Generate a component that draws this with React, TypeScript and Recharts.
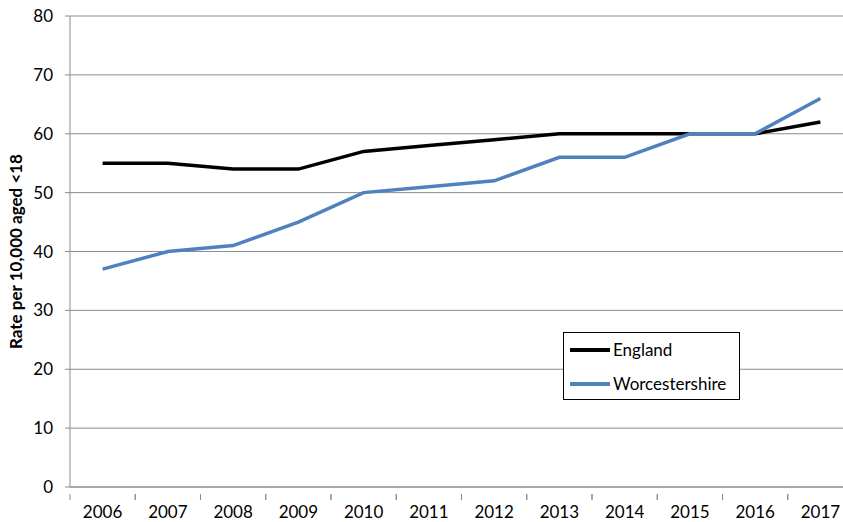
import React from "react";
import { LineChart, Line, XAxis, YAxis, CartesianGrid } from "recharts";

const years = ["2006", "2007", "2008", "2009", "2010", "2011", "2012", "2013", "2014", "2015", "2016", "2017"];
const england = [55, 55, 54, 54, 57, 58, 59, 60, 60, 60, 60, 62];
const worcestershire = [37, 40, 41, 45, 50, 51, 52, 56, 56, 60, 60, 66];
const yTicks = [0, 10, 20, 30, 40, 50, 60, 70, 80];

const data = years.map((y, i) => ({
  year: y,
  England: england[i],
  Worcestershire: worcestershire[i],
}));

const FONT = "Lato, 'Open Sans', sans-serif";
const GRID = "#8c8c8c";
const HALF_BAND = 32.6;

function XTick({ x, y, payload }: { x?: number; y?: number; payload?: { value: string } }) {
  return (
    <g>
      <line x1={(x ?? 0) - HALF_BAND} x2={(x ?? 0) - HALF_BAND} y1={(y ?? 0) - 1} y2={(y ?? 0) + 5} stroke={GRID} />
      <line x1={(x ?? 0) + HALF_BAND} x2={(x ?? 0) + HALF_BAND} y1={(y ?? 0) - 1} y2={(y ?? 0) + 5} stroke={GRID} />
      <text x={x} y={(y ?? 0) + 23} textAnchor="middle" fontSize={17} fill="#000" fontFamily={FONT}>
        {payload?.value}
      </text>
    </g>
  );
}

function LegendBox() {
  const items = [
    { name: "England", color: "#000000" },
    { name: "Worcestershire", color: "#4F81BD" },
  ];
  return (
    <div
      style={{
        position: "absolute",
        left: 563,
        top: 332,
        border: "1.5px solid #000",
        background: "white",
        width: 177,
        height: 68,
        boxSizing: "border-box",
        padding: "3px 0 0 6px",
        fontFamily: FONT,
        fontSize: 17,
      }}
    >
      {items.map((it) => (
        <div key={it.name} style={{ display: "flex", alignItems: "center", height: 27, marginBottom: 7 }}>
          <span style={{ display: "inline-block", width: 40, height: 4, background: it.color, marginRight: 3 }} />
          <span>{it.name}</span>
        </div>
      ))}
    </div>
  );
}

export default function App() {
  return (
    <div style={{ position: "absolute", left: 0, top: 0, width: 843, height: 522, overflow: "hidden", background: "white" }}>
      <LineChart width={870} height={522} data={data} margin={{ top: 16, right: 17, left: 0, bottom: 0 }}>
        <CartesianGrid vertical={false} stroke={GRID} strokeWidth={1} />
        <XAxis
          dataKey="year"
          padding={{ left: HALF_BAND, right: HALF_BAND }}
          height={35}
          tickLine={false}
          axisLine={{ stroke: GRID }}
          tick={<XTick />}
          interval={0}
        />
        <YAxis
          domain={[0, 80]}
          ticks={yTicks}
          width={70}
          tickSize={5}
          tickMargin={12}
          tickLine={{ stroke: GRID }}
          axisLine={{ stroke: GRID }}
          tick={{ fontSize: 17, fill: "#000", fontFamily: FONT }}
          label={{
            value: "Rate per 10,000 aged <18",
            angle: -90,
            position: "insideLeft",
            offset: 0,
            dx: 16,
            style: { fontSize: 17, fontWeight: 700, fill: "#000", fontFamily: FONT, textAnchor: "middle" },
          }}
        />
        <Line
          type="linear"
          dataKey="England"
          stroke="#000000"
          strokeWidth={3.5}
          dot={false}
          isAnimationActive={false}
        />
        <Line
          type="linear"
          dataKey="Worcestershire"
          stroke="#4F81BD"
          strokeWidth={3.5}
          dot={false}
          isAnimationActive={false}
        />
      </LineChart>
      <LegendBox />
    </div>
  );
}
